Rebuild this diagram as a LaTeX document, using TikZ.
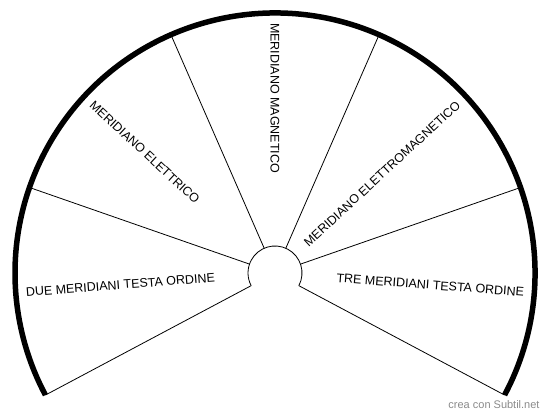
\documentclass[tikz,border=0pt]{standalone}
\usepackage{fontspec}
\setmainfont{Liberation Sans}
\usepackage{xcolor}
\usepackage{tikz}
\usetikzlibrary{positioning,calc}
\definecolor{fanline}{HTML}{000000}
\definecolor{fangray}{HTML}{8A8A8A}

\begin{document}
\begin{tikzpicture}[
  x=1pt,y=1pt,
  rim/.style={draw=fanline,line width=5.5pt},
  spoke/.style={draw=fanline,line width=0.8pt},
  lbl/.style={inner sep=0pt,font=\fontsize{12.5}{15}\selectfont},
  credit/.style={fangray,inner sep=0pt,font=\fontsize{11}{13}\selectfont}]
  \useasboundingbox (0,0) rectangle (550,417);
  \coordinate (c) at (275,144);
  % spokes between the five sectors
  \foreach \i/\a in {0/-28,1/19.2,2/66.4,3/113.6,4/160.8,5/208}{
    \coordinate (in\i) at ([shift={(\a:27pt)}]c);
    \coordinate (out\i) at ([shift={(\a:260pt)}]c);
    \draw[spoke] (in\i) -- (out\i);
  }
  \draw[spoke] (in0) arc[start angle=-28,end angle=208,radius=27pt];
  \draw[rim] (out0) arc[start angle=-28,end angle=208,radius=260pt];
  % sector labels
  \node[lbl,anchor=west,rotate=4.4] (due) at ([shift={(184.4:250pt)}]c) {DUE MERIDIANI TESTA ORDINE};
  \node[lbl,anchor=west,rotate=-42.8] (elet) at ([shift={(137.2:250pt)}]c) {MERIDIANO ELETTRICO};
  \node[lbl,anchor=west,rotate=-90] (magn) at ([shift={(90:250pt)}]c) {MERIDIANO MAGNETICO};
  \node[lbl,anchor=east,rotate=42.8] (elmag) at ([shift={(42.8:250pt)}]c) {MERIDIANO ELETTROMAGNETICO};
  \node[lbl,anchor=east,rotate=-4.4] (tre) at ([shift={(-4.4:250pt)}]c) {TRE MERIDIANI TESTA ORDINE};
  \node[credit] (sign) at (494,12) {crea con Subtil.net};
\end{tikzpicture}
\end{document}
